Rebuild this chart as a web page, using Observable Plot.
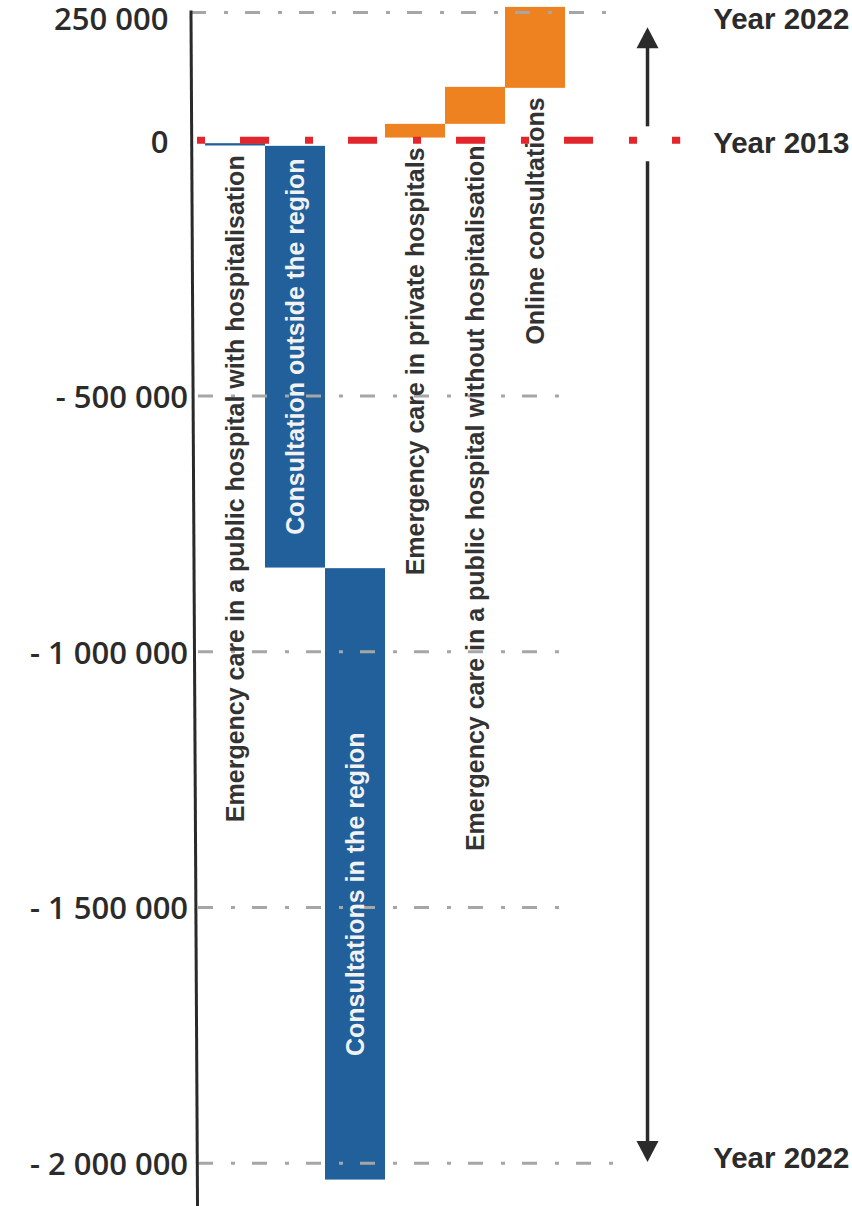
<!DOCTYPE html>
<html><head><meta charset="utf-8">
<script src="https://cdn.jsdelivr.net/npm/d3@7"></script>
<script src="https://cdn.jsdelivr.net/npm/@observablehq/plot@0.6"></script>
<style>
html,body{margin:0;padding:0;background:#fff;}
#chart svg{display:block;}
</style></head><body><div id="chart"></div>
<script>
// ---- data ----
const categories = [
  "Emergency care in a public hospital with hospitalisation",
  "Consultation outside the region",
  "Consultations in the region",
  "Emergency care in private hospitals",
  "Emergency care in a public hospital without hospitalisation",
  "Online consultations"
];
const barStart = [-6500, -11700, -837500, 4500, 31300, 101700];
const barEnd   = [-11000, -836300, -2033000, 31300, 103600, 260000];
const labelTop = [-29300, -35200, -1157600, -13700, -9800, 84100];
const tickValues = [250000, 0, -500000, -1000000, -1500000, -2000000];
const tickLabels = ["250 000", "0", "- 500 000", "- 1 000 000", "- 1 500 000", "- 2 000 000"];
const yearLabels = ["Year 2022", "Year 2013", "Year 2022"];
const yearValues = [236600, -6800, -1990600];

// ---- tables ----
const bars = categories.map((c, i) => ({
  name: c, i, y1: barStart[i], y2: barEnd[i], top: labelTop[i], inside: i === 1 || i === 2
}));
const ticks = tickValues.map((v, i) => ({v, label: tickLabels[i]}));
const years = yearLabels.map((t, i) => ({t, v: yearValues[i]}));

const BLUE = "#21609b", ORANGE = "#ef8220", RED = "#e3262b", GRID = "#a6a6a6", INK = "#2b2b2b";

const triUp = {draw(ctx, size) { const k = Math.sqrt(size / Math.PI); const h = 2.1 * k, w = 2.2 * k;
  ctx.moveTo(0, -h / 2); ctx.lineTo(w / 2, h / 2); ctx.lineTo(-w / 2, h / 2); ctx.closePath(); }};
const triDown = {draw(ctx, size) { const k = Math.sqrt(size / Math.PI); const h = 2.1 * k, w = 2.2 * k;
  ctx.moveTo(0, h / 2); ctx.lineTo(w / 2, -h / 2); ctx.lineTo(-w / 2, -h / 2); ctx.closePath(); }};

const arrowX = 7.367;
const gridRight = v => v === 250000 ? 6.85 : v === -2000000 ? 7.08 : 6.12;
const gridLeft = v => v === 250000 ? -0.233 : -0.117;
const tickFont = {fill: INK, fontFamily: "Open Sans, sans-serif", fontWeight: 600, fontSize: 31, textAnchor: "end"};

const chart = Plot.plot({
  width: 852,
  height: 1206,
  margin: 0,
  x: {type: "linear", domain: [-205 / 60, 647 / 60], axis: null},
  y: {type: "linear", domain: [250000, -2000000], range: [12, 1162.7], axis: null},
  marks: [
    Plot.rect(bars, {x1: d => d.i, x2: d => d.i + 1, y1: "y1", y2: "y2",
      fill: d => d.y2 > 0 ? ORANGE : BLUE}),
    Plot.ruleY(ticks.filter(d => d.v !== 0), {y: "v", x1: d => gridLeft(d.v), x2: d => gridRight(d.v),
      stroke: GRID, strokeWidth: 3, strokeDasharray: "15,18,4,17"}),
    Plot.text(bars, {x: d => d.i + 0.5, y: "top", text: "name", rotate: -90, textAnchor: "end",
      fill: d => d.inside ? "#f2f2f2" : "#333333",
      fontFamily: "Liberation Sans, Arial, sans-serif", fontWeight: "bold", fontSize: 25}),
    // zero reference line (Year 2013)
    Plot.ruleY([0], {x1: -0.133, x2: 7.92, stroke: RED, strokeWidth: 7, strokeDasharray: "8,35,29,36"}),
    // slanted y axis line
    Plot.link([0], {x1: -0.242, y1: 254000, x2: -0.133, y2: -2085000, stroke: "#2a2a2a", strokeWidth: 3}),
    // arrows
    Plot.link([0], {x1: arrowX, x2: arrowX, y1: 27400, y2: 190000, stroke: INK, strokeWidth: 3.5}),
    Plot.link([0], {x1: arrowX, x2: arrowX, y1: -41000, y2: -1965000, stroke: INK, strokeWidth: 3.5}),
    Plot.dot([0], {x: arrowX, y: 200400, r: 10, symbol: triUp, fill: INK, stroke: "none"}),
    Plot.dot([0], {x: arrowX, y: -1977000, r: 10, symbol: triDown, fill: INK, stroke: "none"}),
    // tick labels
    Plot.text(ticks.filter(d => d.v > 0), {x: -0.617, y: "v", text: "label", dy: 8, ...tickFont}),
    Plot.text(ticks.filter(d => d.v === 0), {x: -0.617, y: "v", text: "label", dy: 3, ...tickFont}),
    Plot.text(ticks.filter(d => d.v < 0), {x: -0.29, y: "v", text: "label", dy: 2, ...tickFont}),
    // year labels
    Plot.text(years, {x: 10.73, y: "v", text: "t", textAnchor: "end", fill: INK,
      fontFamily: "Liberation Sans, Arial, sans-serif", fontWeight: "bold", fontSize: 29.5})
  ]
});
document.getElementById("chart").appendChild(chart);
</script></body></html>
